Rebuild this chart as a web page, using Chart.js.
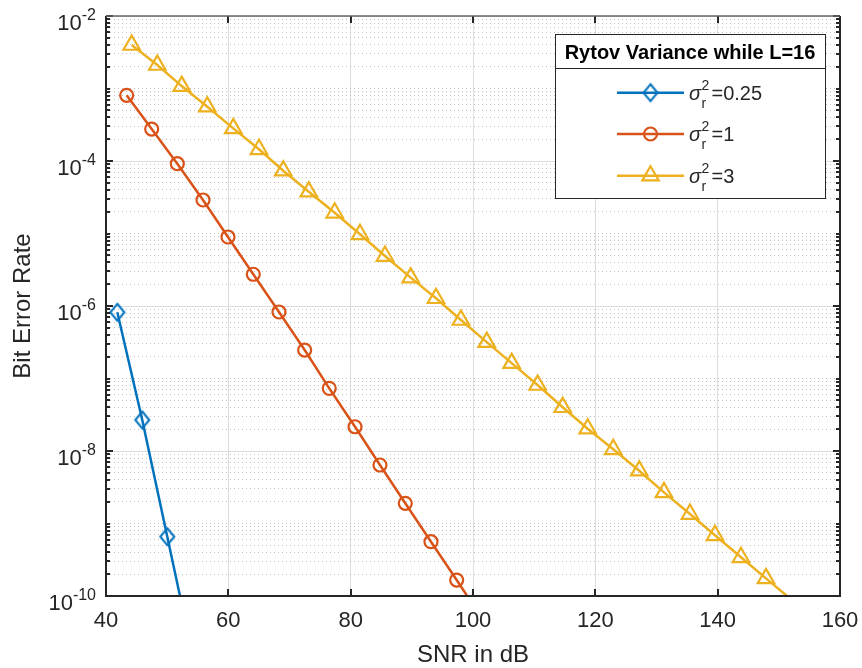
<!DOCTYPE html>
<html>
<head>
<meta charset="utf-8">
<script src="https://cdn.jsdelivr.net/npm/chart.js@4.4.1/dist/chart.umd.min.js"></script>
<style>
  html, body { margin: 0; padding: 0; background: #fff; }
</style>
</head>
<body>
<canvas id="berChart" width="862" height="668"></canvas>
<script>
// values (SNR in dB, bit error rate)
var snrLow  = [41.85, 45.93, 50.02, 54.11];
var berLow  = [8.19e-7, 2.68e-8, 6.57e-10, 1.61e-11];

var snrMid  = [43.38, 47.47, 51.66, 55.86, 59.94, 64.08, 68.28, 72.48, 76.50, 80.71,
               84.79, 88.93, 93.13, 97.33, 101.47];
var berMid  = [8.06e-4, 2.76e-4, 9.18e-5, 2.90e-5, 8.95e-6, 2.74e-6, 8.27e-7, 2.47e-7,
               7.32e-8, 2.16e-8, 6.41e-9, 1.90e-9, 5.61e-10, 1.66e-10, 4.93e-11];

var snrHigh = [44.20, 48.39, 52.38, 56.56, 60.81, 65.01, 68.98, 73.15, 77.39, 81.52,
               85.61, 89.81, 93.95, 98.03, 102.24, 106.32, 110.57, 114.66, 118.75, 122.93,
               127.18, 131.22, 135.47, 139.56, 143.81, 147.90, 152.06];
var berHigh = [3.98e-3, 2.11e-3, 1.08e-3, 5.61e-4, 2.82e-4, 1.45e-4, 7.35e-5, 3.77e-5,
               1.93e-5, 9.75e-6, 4.89e-6, 2.46e-6, 1.28e-6, 6.41e-7, 3.17e-7, 1.63e-7,
               8.13e-8, 4.01e-8, 2.03e-8, 1.055e-8, 5.35e-9, 2.69e-9, 1.35e-9, 6.87e-10,
               3.42e-10, 1.75e-10, 8.9e-11];

var rytovValues = ['0.25', '1', '3'];
var legendTitle = 'Rytov Variance while L=16';

var xTicks = [40, 60, 80, 100, 120, 140, 160];
var yTickExps = [-2, -4, -6, -8, -10];
var yMin = 1e-10, yMax = 1e-2;

var FONT = '"Liberation Sans", Arial, Helvetica, sans-serif';
var AXIS_COLOR = '#262626';
var colors = ['#0072BD', '#D95319', '#EDB120'];

function toPoints(xs, ys) {
    return xs.map(function (v, i) { return { x: v, y: ys[i] }; });
}

// all log ticks 1..9 x 10^e between yMin and yMax
var yGridValues = [];
for (var e = -10; e < -2; e++) {
    for (var k = 1; k <= 9; k++) yGridValues.push(k * Math.pow(10, e));
}
yGridValues.push(yMax);

function isMajorY(v) {
    var ex = Math.round(Math.log10(v));
    return Math.abs(v / Math.pow(10, ex) - 1) < 1e-6 && yTickExps.indexOf(ex) >= 0;
}

function diamondMarker(color) {
    var c = document.createElement('canvas');
    c.width = 18; c.height = 21;
    var g = c.getContext('2d');
    g.strokeStyle = color;
    g.lineWidth = 2;
    g.beginPath();
    g.moveTo(9, 2); g.lineTo(16, 10.5); g.lineTo(9, 19); g.lineTo(2, 10.5);
    g.closePath();
    g.stroke();
    return c;
}
var diamondImg = diamondMarker(colors[0]);

function hideBelowAxis(r) {
    return function (c) { return c.raw && c.raw.y < yMin ? 0 : r; };
}

function noScalePadding(scale) {
    scale.paddingLeft = 0; scale.paddingRight = 0;
    scale.paddingTop = 0; scale.paddingBottom = 0;
}

// axes box, inner tick marks and superscript y labels
var axisFrame = {
    id: 'axisFrame',
    afterDraw: function (chart) {
        var ctx = chart.ctx, a = chart.chartArea;
        var xs = chart.scales.x, ys = chart.scales.y;
        ctx.save();
        ctx.strokeStyle = AXIS_COLOR;
        ctx.lineWidth = 2;
        ctx.beginPath();
        xTicks.forEach(function (v) {
            var px = Math.round(xs.getPixelForValue(v));
            ctx.moveTo(px, a.bottom); ctx.lineTo(px, a.bottom - 7);
            ctx.moveTo(px, a.top); ctx.lineTo(px, a.top + 7);
        });
        yGridValues.forEach(function (v) {
            var py = Math.round(ys.getPixelForValue(v));
            var len = isMajorY(v) ? 7 : 4;
            ctx.moveTo(a.left, py); ctx.lineTo(a.left + len, py);
            ctx.moveTo(a.right, py); ctx.lineTo(a.right - len, py);
        });
        ctx.stroke();

        ctx.beginPath();
        ctx.moveTo(a.left, a.top); ctx.lineTo(a.left, a.bottom);
        ctx.lineTo(a.right, a.bottom); ctx.lineTo(a.right, a.top);
        ctx.stroke();
        ctx.strokeStyle = '#666';
        ctx.lineWidth = 1.5;
        ctx.beginPath();
        ctx.moveTo(a.left, a.top); ctx.lineTo(a.right, a.top);
        ctx.stroke();

        ctx.fillStyle = AXIS_COLOR;
        ctx.textAlign = 'right';
        ctx.textBaseline = 'alphabetic';
        yTickExps.forEach(function (ex) {
            var py = ys.getPixelForValue(Math.pow(10, ex));
            var expText = String(ex);
            ctx.font = '16px ' + FONT;
            var ew = ctx.measureText(expText).width;
            ctx.fillText(expText, 96, py + 4);
            ctx.font = '22px ' + FONT;
            ctx.fillText('10', 96 - ew, py + 14);
        });
        ctx.restore();
    }
};

// legend box with title row and sigma labels
var legendBox = {
    id: 'legendBox',
    afterDraw: function (chart) {
        var ctx = chart.ctx;
        var x0 = 555, y0 = 34, x1 = 825, y1 = 198, sep = 68;
        var rows = [92.7, 134, 175.7];
        ctx.save();
        ctx.fillStyle = '#fff';
        ctx.fillRect(x0, y0, x1 - x0, y1 - y0);
        ctx.strokeStyle = AXIS_COLOR;
        ctx.lineWidth = 1;
        ctx.strokeRect(x0 + 0.5, y0 + 0.5, x1 - x0, y1 - y0);
        ctx.beginPath();
        ctx.moveTo(x0, sep + 0.5); ctx.lineTo(x1, sep + 0.5);
        ctx.stroke();

        ctx.fillStyle = '#000';
        ctx.font = 'bold 20px ' + FONT;
        ctx.textAlign = 'center';
        ctx.fillText(legendTitle, (x0 + x1) / 2, 59);

        chart.data.datasets.forEach(function (ds, i) {
            var yy = rows[i];
            ctx.strokeStyle = ds.borderColor;
            ctx.lineWidth = 2.5;
            ctx.beginPath();
            ctx.moveTo(617, yy); ctx.lineTo(684, yy);
            ctx.stroke();

            var mx = 650.5;
            ctx.lineWidth = 2.2;
            if (i === 0) {
                ctx.drawImage(diamondImg, mx - diamondImg.width / 2, yy - diamondImg.height / 2);
            } else if (i === 1) {
                ctx.beginPath();
                ctx.arc(mx, yy, 6.5, 0, Math.PI * 2);
                ctx.stroke();
            } else {
                var r = 9.5;
                ctx.beginPath();
                ctx.moveTo(mx, yy - r);
                ctx.lineTo(mx + r * Math.sin(2 * Math.PI / 3), yy - r * Math.cos(2 * Math.PI / 3));
                ctx.lineTo(mx + r * Math.sin(4 * Math.PI / 3), yy - r * Math.cos(4 * Math.PI / 3));
                ctx.closePath();
                ctx.stroke();
            }

            ctx.fillStyle = AXIS_COLOR;
            ctx.textAlign = 'left';
            ctx.font = 'italic 20px ' + FONT;
            ctx.fillText('\u03c3', 689, yy + 7.3);
            ctx.font = '14px ' + FONT;
            ctx.fillText('2', 701.5, yy - 2.7);
            ctx.fillText('r', 701.5, yy + 15.3);
            ctx.font = '20px ' + FONT;
            ctx.fillText('=' + rytovValues[i], 711.5, yy + 7.3);
        });
        ctx.restore();
    }
};

function makeSet(i, xs, ys, style, radius) {
    return {
        label: '\u03c3r\u00b2=' + rytovValues[i],
        data: toPoints(xs, ys),
        borderColor: colors[i],
        borderWidth: 2.5,
        pointStyle: style,
        pointRadius: hideBelowAxis(radius),
        pointBorderColor: colors[i],
        pointBackgroundColor: 'rgba(0,0,0,0)',
        pointBorderWidth: 2.2,
        tension: 0,
        fill: false
    };
}

new Chart(document.getElementById('berChart'), {
    type: 'line',
    data: {
        datasets: [
            makeSet(0, snrLow, berLow, diamondImg, 8),
            makeSet(1, snrMid, berMid, 'circle', 6.5),
            makeSet(2, snrHigh, berHigh, 'triangle', 9.5)
        ]
    },
    options: {
        responsive: false,
        animation: false,
        layout: { padding: { top: 16, right: 22, bottom: 0, left: 0 } },
        plugins: {
            legend: { display: false },
            tooltip: { enabled: false }
        },
        scales: {
            x: {
                type: 'linear',
                min: 40,
                max: 160,
                afterBuildTicks: function (scale) {
                    scale.ticks = xTicks.map(function (v) { return { value: v }; });
                },
                afterFit: function (scale) { scale.height = 72; noScalePadding(scale); },
                ticks: {
                    autoSkip: false,
                    maxRotation: 0,
                    padding: 12,
                    color: AXIS_COLOR,
                    font: { family: FONT, size: 22 }
                },
                grid: { color: '#dcdcdc', lineWidth: 1, drawTicks: false },
                border: { display: false },
                title: {
                    display: true,
                    text: 'SNR in dB',
                    color: AXIS_COLOR,
                    font: { family: FONT, size: 24 },
                    padding: { top: 0, bottom: -2 }
                }
            },
            y: {
                type: 'logarithmic',
                min: yMin,
                max: yMax,
                afterBuildTicks: function (scale) {
                    scale.ticks = yGridValues.map(function (v) { return { value: v }; });
                },
                afterFit: function (scale) { scale.width = 106; noScalePadding(scale); },
                ticks: { display: false },
                grid: {
                    drawTicks: false,
                    lineWidth: 1,
                    color: function (c) {
                        return c.tick && isMajorY(c.tick.value) ? '#dcdcdc' : '#c2c2c2';
                    }
                },
                border: {
                    display: false,
                    dash: function (c) {
                        return c.tick && isMajorY(c.tick.value) ? [] : [1, 3];
                    }
                },
                title: {
                    display: true,
                    text: 'Bit Error Rate',
                    color: AXIS_COLOR,
                    font: { family: FONT, size: 24 },
                    padding: { top: 9, bottom: 0 }
                }
            }
        }
    },
    plugins: [axisFrame, legendBox]
});
</script>
</body>
</html>
